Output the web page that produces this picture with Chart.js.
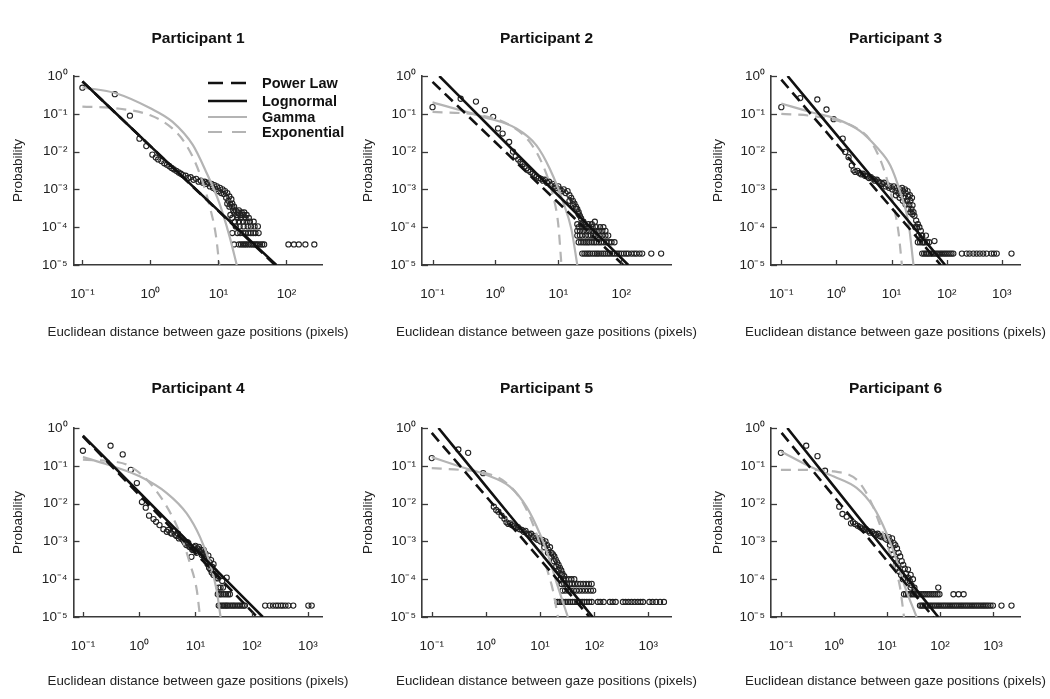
<!DOCTYPE html>
<html><head><meta charset="utf-8">
<script src="https://cdn.jsdelivr.net/npm/chart.js@4.4.1/dist/chart.umd.min.js"></script>
<style>
html,body{margin:0;padding:0;background:#fff;width:1050px;height:699px;overflow:hidden;font-family:"Liberation Sans",Arial,Helvetica,sans-serif}
#wrap{position:relative;width:1050px;height:699px}
.cell{position:absolute}
.lg{position:absolute;height:18px;line-height:18px;font-weight:bold;font-size:14.5px;color:#111;white-space:nowrap}
.lg svg{position:absolute;left:0;top:0}
.lg span{position:absolute;left:54px;top:0}
.xt{position:absolute;width:400px;height:16px;line-height:16px;font-size:13.3px;color:#222;text-align:center;white-space:nowrap}
</style></head><body>
<div id="wrap"></div>
<script>
// ---------------- DATA ----------------
const titles = ['Participant 1','Participant 2','Participant 3','Participant 4','Participant 5','Participant 6'];
const seriesNames = ['Power Law','Lognormal','Gamma','Exponential'];
const xTitle = 'Euclidean distance between gaze positions (pixels)';
const yTitle = 'Probability';
const xTickValues = [0.1,1,10,100,1000];
const xTickLabels = ['10\u207B\u00B9','10\u2070','10\u00B9','10\u00B2','10\u00B3'];
const yTickValues = [1e-5,1e-4,1e-3,1e-2,1e-1,1];
const yTickLabels = ['10\u207B\u2075','10\u207B\u2074','10\u207B\u00B3','10\u207B\u00B2','10\u207B\u00B9','10\u2070'];
const xMin = [0.074,0.068,0.065,0.068,0.066,0.065];
const xMax = [339,617,2140,1820,2630,3240];

// observed probabilities [distance, probability]
const p1Points = [[0.10,0.49],[0.30,0.33],[0.50,0.089],[0.69,0.022],[0.87,0.014],[1.07,0.0083],[1.2,0.0070],[1.3,0.0062],[1.45,0.0056],[1.6,0.0049],[1.75,0.0045],[1.9,0.0041],[2.05,0.0037],[2.2,0.0034],[2.4,0.0031],[2.6,0.0028],[2.8,0.0026],[3.0,0.0024],[3.3,0.0023],[3.6,0.0020],[3.9,0.0021],[4.3,0.0018],[4.7,0.0019],[5.1,0.0016],[5.5,0.0017],[5.9,0.0015],[6.3,0.0016],[6.7,0.0014],[7.1,0.0015],[7.5,0.0012],[7.9,0.0014],[8.3,0.0011],[8.7,0.0013],[9.1,0.0010],[9.5,0.0012],[10,0.0009],[10.5,0.0011],[11,0.0008],[11.5,0.0010],[12,0.00075],[12.5,0.0009],[13,0.0006],[13.5,0.0008],[14,0.0005],[14.5,0.00065],[15,0.0004],[15.5,0.00055],[16,0.00035],
 [14.5,0.00035],[17,0.00035],[13.5,0.00042],[16,0.00042],
 [16.5,0.00028],[18,0.00028],[20,0.00028],
 [17,0.000245],[19.5,0.000245],[22,0.000245],[24,0.000245],
 [15,0.00021],[18.5,0.00021],[21,0.00021],[23,0.00021],[26,0.00021],
 [16,0.000175],[19,0.000175],[21.5,0.000175],[25,0.000175],[28,0.000175],
 [17.5,0.00014],[20,0.00014],[23,0.00014],[26,0.00014],[29,0.00014],[33,0.00014],
 [18,0.000105],[20.5,0.000105],[23.5,0.000105],[27,0.000105],[30,0.000105],[34,0.000105],[38,0.000105],
 [16,0.00007],[19,0.00007],[21,0.00007],[23,0.00007],[25,0.00007],[27.5,0.00007],[30,0.00007],[32.5,0.00007],[35,0.00007],[39,0.00007],
 [17,0.000035],[20,0.000035],[21.5,0.000035],[23,0.000035],[24.5,0.000035],[26,0.000035],[28,0.000035],[30,0.000035],[32,0.000035],[34,0.000035],[36,0.000035],[38,0.000035],[41,0.000035],[44,0.000035],[47,0.000035],[107,0.000035],[129,0.000035],[152,0.000035],[190,0.000035],[257,0.000035]];

const p2Points = [[0.10,0.15],[0.28,0.25],[0.49,0.21],[0.68,0.125],[0.92,0.083],[1.1,0.041],[1.3,0.030],[1.65,0.018],[1.9,0.010],[2.1,0.0075],[2.3,0.0062],[2.5,0.0053],[2.7,0.0047],[2.9,0.0040],[3.1,0.0036],[3.3,0.0032],[3.6,0.0029],[3.9,0.0026],[4.2,0.0024],[4.5,0.0022],[4.9,0.0020],[5.3,0.0019],[5.7,0.0017],[6.1,0.0018],[6.6,0.0015],[7.1,0.0016],[7.6,0.0013],[8.1,0.0014],[8.7,0.0012],[9.3,0.0011],[10,0.0012],[10.7,0.0010],[11.4,0.0009],[12.2,0.0010],[13,0.0008],[14,0.0009],[15,0.0007],[16,0.0006],[17,0.0005],[18,0.00042],[19,0.00035],[20,0.0003],[21,0.00025],[22,0.0002],[23,0.00017],[25,0.00014],[38,0.00014],
 [15,0.0005],[17,0.0004],[19,0.0003],[21,0.00022],
 [20,0.00012],[23,0.00012],[26,0.00012],[30,0.00012],[34,0.00012],
 [21,0.0001],[24,0.0001],[27,0.0001],[31,0.0001],[35,0.0001],[40,0.0001],[46,0.0001],[52,0.0001],
 [20,0.00008],[22,0.00008],[25,0.00008],[28,0.00008],[31,0.00008],[35,0.00008],[39,0.00008],[44,0.00008],[50,0.00008],[56,0.00008],
 [20,0.00006],[22,0.00006],[24,0.00006],[27,0.00006],[30,0.00006],[33,0.00006],[36,0.00006],[40,0.00006],[45,0.00006],[50,0.00006],[56,0.00006],[62,0.00006],
 [21,0.00004],[23,0.00004],[25,0.00004],[27,0.00004],[29,0.00004],[31,0.00004],[34,0.00004],[37,0.00004],[40,0.00004],[44,0.00004],[48,0.00004],[53,0.00004],[58,0.00004],[64,0.00004],[70,0.00004],[78,0.00004],
 [24,0.00002],[26,0.00002],[28,0.00002],[30,0.00002],[32,0.00002],[35,0.00002],[38,0.00002],[41,0.00002],[44,0.00002],[48,0.00002],[52,0.00002],[56,0.00002],[61,0.00002],[66,0.00002],[72,0.00002],[78,0.00002],[85,0.00002],[92,0.00002],[100,0.00002],[110,0.00002],[120,0.00002],[130,0.00002],[145,0.00002],[160,0.00002],[175,0.00002],[195,0.00002],[215,0.00002],[300,0.00002],[430,0.00002]];

const p3Points = [[0.10,0.15],[0.22,0.26],[0.45,0.24],[0.66,0.13],[0.89,0.072],[1.3,0.022],[1.45,0.0098],[1.66,0.0071],[1.9,0.0043],[2.05,0.0032],[2.2,0.0029],[2.4,0.0031],[2.6,0.0027],[2.8,0.0025],[3.0,0.0026],[3.3,0.0023],[3.6,0.0022],[3.9,0.0020],[4.2,0.0021],[4.6,0.0019],[5.0,0.0017],[5.4,0.0018],[5.8,0.0016],[6.3,0.0015],[6.8,0.0014],[7.3,0.0015],[7.8,0.0012],[8.4,0.0013],[9.0,0.0011],[9.6,0.0012],[10.3,0.0010],[11,0.0012],[11.8,0.0009],[12.5,0.0011],[13.3,0.0008],[14.2,0.0010],[15,0.0007],[16,0.0009],[17,0.0006],[18,0.0008],[19,0.0005],[20,0.00065],[21,0.0004],[22,0.0005],[23,0.0003],[24,0.00038],[25,0.00025],[26,0.0002],[28,0.00015],[30,0.00012],[32,0.0001],[34,0.00008],[36,0.00006],[38,0.00004],[60,0.000043],
 [12,0.0007],[14,0.0006],[16,0.0005],[18,0.0004],[20,0.0003],[22,0.00025],[24,0.00022],[15.5,0.0011],[17.5,0.0010],[19.5,0.0009],[21.5,0.0007],[23.5,0.0006],
 [27,0.0001],[29,0.0001],[31,0.00006],[35,0.00006],[42,0.00006],
 [30,0.00004],[33,0.00004],[36,0.00004],[40,0.00004],[44,0.00004],[48,0.00004],
 [36,0.00002],[39,0.00002],[42,0.00002],[45,0.00002],[48,0.00002],[52,0.00002],[56,0.00002],[60,0.00002],[65,0.00002],[70,0.00002],[76,0.00002],[82,0.00002],[89,0.00002],[96,0.00002],[104,0.00002],[113,0.00002],[122,0.00002],[132,0.00002],[189,0.00002],[230,0.00002],[260,0.00002],[305,0.00002],[350,0.00002],[400,0.00002],[460,0.00002],[530,0.00002],[645,0.00002],[720,0.00002],[810,0.00002],[1500,0.00002]];

const p4Points = [[0.1,0.25],[0.31,0.34],[0.51,0.20],[0.71,0.078],[0.91,0.035],[1.12,0.011],[1.31,0.0078],[1.5,0.0048],[1.8,0.0039],[2.0,0.0033],[2.3,0.0027],[2.7,0.0021],[3.1,0.0018],[3.6,0.0017],[4.0,0.0019],[4.4,0.0015],[4.9,0.0016],[5.4,0.0013],[6.0,0.0011],[6.6,0.00089],[7.2,0.00095],[7.8,0.00072],[8.5,0.00039],[9.2,0.00059],[10,0.00076],[11,0.00065],[12,0.00054],[13,0.00044],[14,0.0006],[15,0.00048],[16,0.00035],[17,0.00042],[18,0.00028],[19,0.00032],[20,0.00021],[21,0.00025],[22,0.00016],[23,0.00014],[25,0.000105],[26,0.00012],[30,0.00009],[36,0.00011],
 [3.3,0.0020],[3.8,0.0016],[4.6,0.0014],[5.1,0.0012],[5.7,0.0012],[6.3,0.0010],[6.9,0.0008],[7.5,0.0009],[8.1,0.0007],[8.8,0.0006],[9.6,0.0007],[10.5,0.0005],[11.5,0.00072],[12.5,0.0006],[13.5,0.0005],[14.5,0.0004],[15.5,0.0003],[16.5,0.00025],[17.5,0.0002],[18.5,0.00018],[19.5,0.00015],[21,0.00013],[24,0.00011],
 [26,0.00006],[28,0.00006],[31,0.00006],
 [25,0.00004],[27,0.00004],[29,0.00004],[32,0.00004],[35,0.00004],[38,0.00004],[41,0.00004],
 [26,0.00002],[28,0.00002],[30,0.00002],[32,0.00002],[34,0.00002],[36,0.00002],[38,0.00002],[41,0.00002],[44,0.00002],[47,0.00002],[50,0.00002],[54,0.00002],[58,0.00002],[62,0.00002],[67,0.00002],[72,0.00002],[76,0.00002],[174,0.00002],[210,0.00002],[240,0.00002],[270,0.00002],[295,0.00002],[330,0.00002],[360,0.00002],[400,0.00002],[450,0.00002],[550,0.00002],[1020,0.00002],[1170,0.00002]];

const p5Points = [[0.1,0.16],[0.31,0.27],[0.47,0.22],[0.89,0.064],[1.4,0.0083],[1.55,0.0068],[1.7,0.0061],[1.95,0.0048],[2.2,0.0040],[2.4,0.0032],[2.6,0.0029],[2.8,0.0030],[3.0,0.0027],[3.3,0.0025],[3.6,0.0023],[3.9,0.0024],[4.2,0.0021],[4.6,0.0020],[5.0,0.0018],[5.4,0.0019],[5.8,0.0016],[6.3,0.0015],[6.8,0.0016],[7.3,0.0013],[7.8,0.0014],[8.4,0.0012],[9.0,0.0011],[9.6,0.0012],[10.3,0.0010],[11,0.0011],[11.8,0.0009],[12.6,0.0010],[13.5,0.0008],[14.4,0.0006],[15.3,0.0007],[16.3,0.0005],[17.3,0.00045],[18.4,0.0004],[19.5,0.00033],[20.7,0.00028],[22,0.00024],[23.3,0.0002],[24.7,0.00017],[26,0.00014],[28,0.00012],
 [12,0.0007],[14,0.0005],[16,0.0004],[18,0.0003],[20,0.00022],[22,0.00018],[25,0.00013],
 [24,0.0001],[27,0.0001],[30,0.0001],[34,0.0001],[38,0.0001],[43,0.0001],
 [25,0.000075],[28,0.000075],[31,0.000075],[35,0.000075],[39,0.000075],[44,0.000075],[50,0.000075],[56,0.000075],[63,0.000075],[71,0.000075],[80,0.000075],[90,0.000075],
 [26,0.00005],[29,0.00005],[33,0.00005],[37,0.00005],[42,0.00005],[47,0.00005],[53,0.00005],[60,0.00005],[68,0.00005],[77,0.00005],[87,0.00005],[96,0.00005],
 [21,0.000025],[23,0.000025],[25,0.000025],[27,0.000025],[30,0.000025],[33,0.000025],[36,0.000025],[40,0.000025],[44,0.000025],[49,0.000025],[54,0.000025],[60,0.000025],[66,0.000025],[73,0.000025],[81,0.000025],[90,0.000025],[117,0.000025],[130,0.000025],[150,0.000025],[195,0.000025],[220,0.000025],[250,0.000025],[340,0.000025],[380,0.000025],[430,0.000025],[490,0.000025],[560,0.000025],[640,0.000025],[720,0.000025],[800,0.000025],[1050,0.000025],[1200,0.000025],[1400,0.000025],[1650,0.000025],[1950,0.000025]];

const p6Points = [[0.1,0.22],[0.3,0.34],[0.49,0.18],[0.68,0.074],[1.26,0.0083],[1.45,0.0053],[1.74,0.0045],[2.1,0.0030],[2.3,0.0032],[2.5,0.0029],[2.8,0.0026],[3.1,0.0024],[3.4,0.0022],[3.7,0.0020],[4.0,0.0021],[4.4,0.0019],[4.8,0.0017],[5.2,0.0018],[5.7,0.0016],[6.2,0.0015],[6.7,0.0016],[7.3,0.0014],[7.9,0.0013],[8.6,0.0014],[9.3,0.0012],[10,0.0011],[10.8,0.0013],[11.4,0.0008],[11.6,0.0010],[12.2,0.0006],[12.5,0.0012],[13,0.00045],[13.4,0.0009],[14,0.00035],[14.4,0.0008],[15,0.00027],[15.5,0.00065],[16,0.0002],[16.6,0.0005],[17,0.00016],[17.8,0.0004],[18.5,0.00013],[19,0.0003],[20,0.0001],[20.3,0.00024],[21.7,0.00019],[23,0.00014],[25,0.00011],[27,0.00009],[29,0.00007],[31,0.0001],[25,0.00018],[28,0.00013],
 [28,0.00006],[33,0.00006],[93,0.00006],
 [21,0.00004],[23,0.00004],[25,0.00004],[27,0.00004],[29,0.00004],[32,0.00004],[35,0.00004],[38,0.00004],[41,0.00004],[45,0.00004],[49,0.00004],[53,0.00004],[58,0.00004],[63,0.00004],[69,0.00004],[75,0.00004],[82,0.00004],[90,0.00004],[98,0.00004],[180,0.00004],[225,0.00004],[280,0.00004],
 [42,0.00002],[45,0.00002],[48,0.00002],[52,0.00002],[56,0.00002],[60,0.00002],[65,0.00002],[70,0.00002],[76,0.00002],[82,0.00002],[89,0.00002],[96,0.00002],[104,0.00002],[113,0.00002],[122,0.00002],[132,0.00002],[143,0.00002],[155,0.00002],[168,0.00002],[182,0.00002],[197,0.00002],[213,0.00002],[231,0.00002],[250,0.00002],[270,0.00002],[293,0.00002],[317,0.00002],[343,0.00002],[372,0.00002],[403,0.00002],[436,0.00002],[472,0.00002],[511,0.00002],[553,0.00002],[600,0.00002],[650,0.00002],[700,0.00002],[760,0.00002],[820,0.00002],[900,0.00002],[1000,0.00002],[1450,0.00002],[2240,0.00002]];

// fitted curves [distance, probability]
const p1Power = [[0.1,0.72],[68,1e-5]];
const p1Logn  = [[0.1,0.72],[1,0.014],[10,2.75e-4],[71,1e-5]];
const p1Gamma = [[0.1,0.5],[0.31,0.35],[1.0,0.14],[2.1,0.062],[4.2,0.015],[6.6,0.0029],[10.2,4.6e-4],[14.5,5.9e-5],[18.6,1e-5]];
const p1Expo  = [[0.1,0.155],[0.31,0.14],[1.0,0.091],[2.1,0.041],[3.4,0.0145],[5.2,0.0029],[7.4,3.7e-4],[9.2,5.9e-5],[10.3,1e-5]];

const p2Power = [[0.1,0.7],[107,1e-5]];
const p2Logn  = [[0.128,1],[1,0.032],[10,6.9e-4],[129,1e-5]];
const p2Gamma = [[0.1,0.2],[0.64,0.083],[2.15,0.041],[4.48,0.0146],[7.3,0.0035],[11.9,4.6e-4],[16.1,8.9e-5],[20,1e-5]];
const p2Expo  = [[0.1,0.112],[0.64,0.089],[1.69,0.05],[3.5,0.018],[5.7,0.0043],[8.2,6.9e-4],[9.9,1.3e-4],[11.2,1e-5]];

const p3Power = [[0.1,0.8],[78,1e-5]];
const p3Logn  = [[0.13,1],[1,0.028],[10,5e-4],[94,1e-5]];
const p3Gamma = [[0.1,0.187],[0.336,0.112],[0.95,0.075],[2.7,0.035],[5.4,0.013],[9.5,0.0043],[14.4,8.4e-4],[20.3,1.3e-4],[25,1e-5]];
const p3Expo  = [[0.1,0.1],[0.336,0.089],[0.95,0.068],[2.36,0.041],[4.1,0.02],[7.2,0.0035],[10.9,3.7e-4],[13.4,7.2e-5],[15.4,1e-5]];

const p4Power = [[0.1,0.6],[125,1e-5]];
const p4Logn  = [[0.1,0.63],[1,0.02],[10,6.3e-4],[158,1e-5]];
const p4Gamma = [[0.1,0.17],[0.35,0.096],[1.04,0.052],[3.1,0.019],[7.0,0.0055],[12.1,0.0013],[18.2,2.6e-4],[23.9,5.1e-5],[28,1e-5]];
const p4Expo  = [[0.1,0.145],[0.35,0.13],[0.6,0.107],[1.37,0.043],[3.1,0.0083],[5.35,0.0016],[8.0,2.6e-4],[10.6,5.1e-5],[12.1,1e-5]];

const p5Power = [[0.1,0.74],[82,1e-5]];
const p5Logn  = [[0.133,1],[1,0.029],[10,5.2e-4],[94,1e-5]];
const p5Gamma = [[0.1,0.17],[0.33,0.096],[1,0.058],[2.77,0.028],[5.6,0.0083],[9.9,0.0016],[15.1,3.2e-4],[21.4,6.3e-5],[32.7,1e-5]];
const p5Expo  = [[0.1,0.087],[0.33,0.078],[1,0.064],[2.4,0.035],[4.9,0.0102],[8.6,0.0016],[13.1,2.1e-4],[17.3,5.1e-5],[21.4,1e-5]];

const p6Power = [[0.103,0.74],[75,1e-5]];
const p6Logn  = [[0.132,1],[1,0.0285],[10,5e-4],[93,1e-5]];
const p6Gamma = [[0.1,0.24],[0.35,0.096],[1,0.052],[2.68,0.026],[5.5,0.0083],[9.9,0.0016],[15.2,3.2e-4],[21.9,6.3e-5],[36.3,1e-5]];
const p6Expo  = [[0.1,0.078],[0.35,0.078],[1,0.071],[2.68,0.043],[4.8,0.0125],[8.5,0.0016],[13.2,2.6e-4],[17.6,6.3e-5],[21,1e-5]];

const allPoints = [p1Points,p2Points,p3Points,p4Points,p5Points,p6Points];
const allPower  = [p1Power,p2Power,p3Power,p4Power,p5Power,p6Power];
const allLogn   = [p1Logn,p2Logn,p3Logn,p4Logn,p5Logn,p6Logn];
const allGamma  = [p1Gamma,p2Gamma,p3Gamma,p4Gamma,p5Gamma,p6Gamma];
const allExpo   = [p1Expo,p2Expo,p3Expo,p4Expo,p5Expo,p6Expo];

// ---------------- LAYOUT / STYLE ----------------
const FONT = '"Liberation Sans", Arial, Helvetica, sans-serif';
Chart.defaults.font.family = FONT;
const colLeft = [73.5, 422, 771];
const areaW = 249;
const rowTop = [76, 428];
const rowBottom = [265, 617];
const xTitleY = [332, 681];
const GRAY = '#b4b4b4';
const AXIS = '#3a3a3a';

const toXY = arr => arr.map(p => ({x: p[0], y: p[1]}));
function lookup(vals, labels, v) {
  const k = vals.findIndex(t => Math.abs(Math.log10(t) - Math.log10(v)) < 1e-6);
  return k >= 0 ? labels[k] : '';
}

const tickMarks = {
  id: 'tickMarks',
  afterDraw(chart) {
    const {ctx, chartArea: a, scales: {x, y}} = chart;
    ctx.save();
    ctx.strokeStyle = AXIS; ctx.lineWidth = 1.3;
    x.ticks.forEach(t => { const px = Math.round(x.getPixelForValue(t.value)) + 0.5;
      ctx.beginPath(); ctx.moveTo(px, a.bottom); ctx.lineTo(px, a.bottom - 5); ctx.stroke(); });
    y.ticks.forEach(t => { const py = Math.round(y.getPixelForValue(t.value)) + 0.5;
      ctx.beginPath(); ctx.moveTo(a.left, py); ctx.lineTo(a.left + 6, py); ctx.stroke(); });
    ctx.restore();
  }
};

const wrap = document.getElementById('wrap');
for (let i = 0; i < 6; i++) {
  const col = i % 3, row = Math.floor(i / 3);
  const cx = col * 350, cy = row * 350, cw = 350, ch = row === 0 ? 350 : 349;
  const areaL = colLeft[col] - cx, areaR = colLeft[col] + areaW - cx;
  const areaT = rowTop[row] - cy, areaB = rowBottom[row] - cy;
  const div = document.createElement('div');
  div.className = 'cell';
  div.style.left = cx + 'px'; div.style.top = cy + 'px';
  div.style.width = cw + 'px'; div.style.height = ch + 'px';
  const cv = document.createElement('canvas');
  cv.width = cw; cv.height = ch;
  cv.style.width = cw + 'px'; cv.style.height = ch + 'px';
  div.appendChild(cv); wrap.appendChild(div);

  const titleLH = 15.5 * 1.2, titleTop = 29.5;
  new Chart(cv, {
    type: 'scatter',
    data: {
      datasets: [
        {label: seriesNames[1], data: toXY(allLogn[i]), showLine: true, borderColor: '#111', borderWidth: 2.6,
         pointRadius: 0, fill: false, order: 1, cubicInterpolationMode: 'monotone'},
        {label: seriesNames[0], data: toXY(allPower[i]), showLine: true, borderColor: '#111', borderWidth: 2.6,
         borderDash: [11, 6], pointRadius: 0, fill: false, order: 2},
        {label: seriesNames[2], data: toXY(allGamma[i]), showLine: true, borderColor: GRAY, borderWidth: 2.2,
         pointRadius: 0, fill: false, order: 3, cubicInterpolationMode: 'monotone'},
        {label: seriesNames[3], data: toXY(allExpo[i]), showLine: true, borderColor: GRAY, borderWidth: 2.2,
         borderDash: [10, 7], pointRadius: 0, fill: false, order: 4, cubicInterpolationMode: 'monotone'},
        {label: 'Observed', data: toXY(allPoints[i]), showLine: false, pointStyle: 'circle', pointRadius: 2.6,
         pointBorderWidth: 1.1, pointBorderColor: '#222', pointBackgroundColor: 'rgba(0,0,0,0)', order: 10}
      ]
    },
    options: {
      responsive: false, animation: false, devicePixelRatio: 1,
      layout: {padding: {left: 0, top: 0, bottom: 0, right: cw - areaR}},
      plugins: {
        legend: {display: false}, tooltip: {enabled: false},
        title: {display: true, text: titles[i], fullSize: false, color: '#111',
          font: {size: 15.5, weight: 'bold'},
          padding: {top: titleTop, bottom: areaT - titleLH - titleTop}}
      },
      scales: {
        x: {
          type: 'logarithmic', position: 'bottom', min: xMin[i], max: xMax[i],
          afterBuildTicks: s => { s.ticks = xTickValues.filter(v => v >= s.min && v <= s.max).map(v => ({value: v})); },
          afterFit: s => { s.height = ch - areaB; },
          grid: {display: false, drawTicks: false},
          border: {display: true, color: AXIS, width: 1.6},
          ticks: {autoSkip: false, maxRotation: 0, padding: 21, color: '#222', font: {size: 13.5},
            callback: v => lookup(xTickValues, xTickLabels, v)},
          title: {display: false}
        },
        y: {
          type: 'logarithmic', position: 'left', min: 1e-5, max: 1,
          afterBuildTicks: s => { s.ticks = yTickValues.map(v => ({value: v})); },
          afterFit: s => { s.width = areaL; },
          grid: {display: false, drawTicks: false},
          border: {display: true, color: AXIS, width: 1.6},
          ticks: {autoSkip: false, padding: 6, color: '#222', font: {size: 13.5},
            callback: v => lookup(yTickValues, yTickLabels, v)},
          title: {display: true, text: yTitle, color: '#222', font: {size: 13.5}, padding: {top: 10, bottom: 0}}
        }
      }
    },
    plugins: [tickMarks]
  });

  // x-axis title, centred under the plot area
  const xt = document.createElement('div');
  xt.className = 'xt';
  xt.textContent = xTitle;
  xt.style.left = (colLeft[col] + areaW / 2 - 200) + 'px';
  xt.style.top = (xTitleY[row] - 8) + 'px';
  wrap.appendChild(xt);
}

// legend (participant 1 panel)
const legendRows = [
  {name: seriesNames[0], color: '#111', w: 2.6, dash: '15,8', y: 83.3},
  {name: seriesNames[1], color: '#111', w: 2.6, dash: '', y: 101},
  {name: seriesNames[2], color: GRAY, w: 2.2, dash: '', y: 117.3},
  {name: seriesNames[3], color: GRAY, w: 2.2, dash: '14,10', y: 131.7}
];
legendRows.forEach(r => {
  const d = document.createElement('div');
  d.className = 'lg';
  d.style.left = '208px'; d.style.top = (r.y - 9) + 'px';
  d.innerHTML = '<svg width="42" height="18"><line x1="0" y1="9" x2="39" y2="9" stroke="' + r.color +
    '" stroke-width="' + r.w + '"' + (r.dash ? ' stroke-dasharray="' + r.dash + '"' : '') + '/></svg><span>' + r.name + '</span>';
  wrap.appendChild(d);
});
</script>
</body></html>
